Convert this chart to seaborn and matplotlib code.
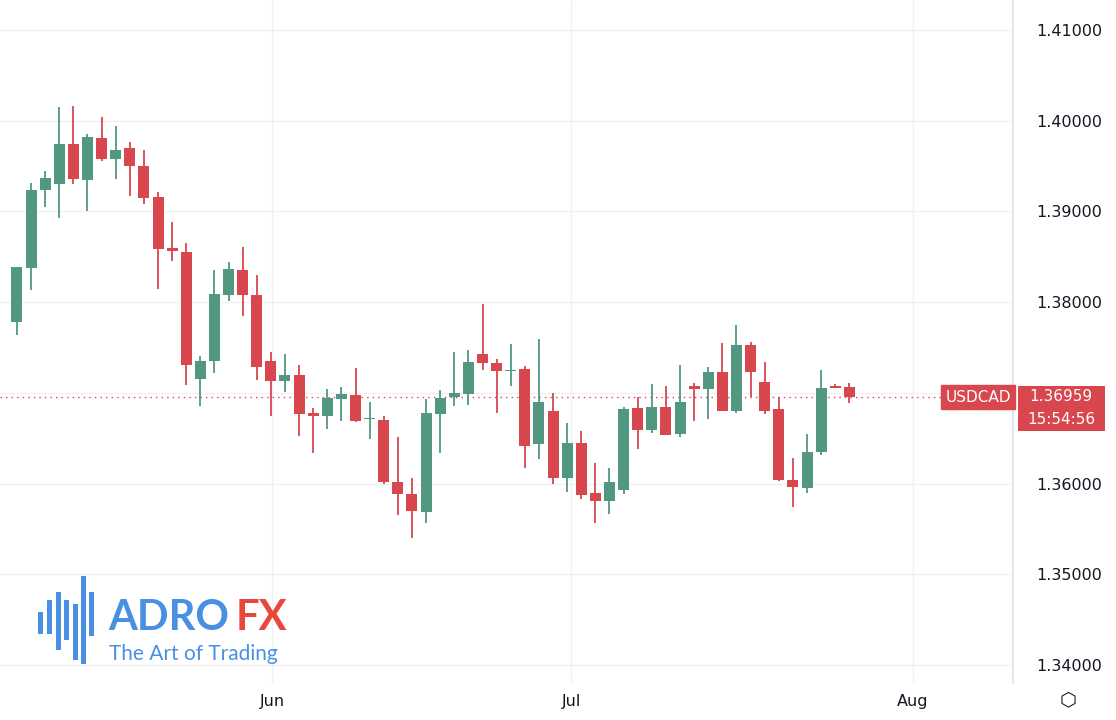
import numpy as np
import pandas as pd
import seaborn as sns
import matplotlib
matplotlib.use("Agg")
import matplotlib.pyplot as plt
from matplotlib.patches import Rectangle

opens = [1.37781,1.38376,1.39236,1.39302,1.39743,1.39346,1.39809,1.39578,1.39699,1.39501,
         1.39159,1.38597,1.38553,1.37153,1.37351,1.38079,1.38354,1.38079,1.37351,1.37131,
         1.37197,1.36778,1.36745,1.36932,1.36976,1.36712,1.36701,1.36017,1.35885,1.35686,
         1.36767,1.36954,1.36987,1.37428,1.37329,1.37241,1.37263,1.36436,1.36800,1.36061,
         1.36447,1.35896,1.35808,1.35929,1.36833,1.36590,1.36844,1.36546,1.37075,1.37042,
         1.37230,1.36800,1.37527,1.37120,1.36822,1.36039,1.35951,1.36348,1.37075,1.37064]
highs = [1.38387,1.39313,1.39446,1.40151,1.40162,1.39854,1.40041,1.39942,1.39765,1.39677,
         1.39214,1.38883,1.38652,1.37406,1.38354,1.38442,1.38608,1.38299,1.37450,1.37428,
         1.37307,1.36833,1.37042,1.37064,1.37274,1.36899,1.36745,1.36513,1.36061,1.36932,
         1.37031,1.37450,1.37472,1.37979,1.37373,1.37538,1.37296,1.37594,1.36998,1.36668,
         1.36579,1.36227,1.36172,1.36844,1.36954,1.37098,1.37075,1.37307,1.37109,1.37285,
         1.37549,1.37748,1.37561,1.37340,1.36954,1.36282,1.36546,1.37252,1.37098,1.37109]
lows = [1.37638,1.38134,1.39049,1.38928,1.39302,1.39005,1.39556,1.39357,1.39170,1.39082,
        1.38145,1.38453,1.37087,1.36855,1.37219,1.38012,1.37847,1.37142,1.36745,1.37009,
        1.36524,1.36337,1.36601,1.36690,1.36679,1.36491,1.35995,1.35653,1.35400,1.35565,
        1.36337,1.36855,1.36866,1.37252,1.36778,1.37075,1.36172,1.36271,1.35995,1.35907,
        1.35830,1.35565,1.35664,1.35885,1.36381,1.36557,1.36535,1.36513,1.36690,1.36712,
        1.36800,1.36778,1.36954,1.36767,1.36028,1.35742,1.35896,1.36315,1.37053,1.36888]
closes = [1.38387,1.39236,1.39368,1.39743,1.39357,1.39820,1.39578,1.39677,1.39501,1.39148,
          1.38586,1.38564,1.37307,1.37351,1.38090,1.38365,1.38079,1.37285,1.37131,1.37197,
          1.36767,1.36745,1.36943,1.36987,1.36690,1.36723,1.36017,1.35885,1.35698,1.36778,
          1.36943,1.36998,1.37340,1.37329,1.37241,1.37252,1.36414,1.36899,1.36061,1.36447,
          1.35874,1.35808,1.36017,1.36822,1.36590,1.36844,1.36535,1.36899,1.37042,1.37230,
          1.36800,1.37527,1.37230,1.36800,1.36039,1.35962,1.36348,1.37053,1.37053,1.36959]
yticks = [1.34, 1.35, 1.36, 1.37, 1.38, 1.39, 1.40, 1.41]
ytick_labels = ["1.34000", "1.35000", "1.36000", "", "1.38000", "1.39000", "1.40000", "1.41000"]
month_labels = ["Jun", "Jul", "Aug"]
month_pos = [18.1, 39.3, 63.5]
symbol = "USDCAD"
last_price = 1.36959
countdown = "15:54:56"

GREEN = "#52977f"
RED = "#d8464e"
df = pd.DataFrame({"o": opens, "h": highs, "l": lows, "c": closes})
df["i"] = np.arange(len(df))
df["up"] = df.c >= df.o
df["col"] = np.where(df.up, GREEN, RED)

sns.set_theme(style="white")
fig = plt.figure(figsize=(11.16, 7.2), dpi=100)
ax = fig.add_axes([0, 1 - 683/720, 1013/1116, 683/720])

for y in yticks:
    ax.axhline(y, color="#f0f1f4", lw=1, zorder=0)
for x in month_pos:
    ax.axvline(x, color="#f0f1f4", lw=1, zorder=0)

ax.vlines(df.i, df.l, df.h, colors=df.col, lw=1.3, zorder=2)
body = (df.c - df.o).abs().clip(lower=0.00004)
ax.bar(df.i, body, bottom=np.minimum(df.o, df.c), width=0.78, color=df.col, zorder=3, linewidth=0)
ax.axhline(last_price, color=RED, lw=1, ls=(0, (1, 3)), zorder=1)

ax.set_xlim(-1.2, 70.6)
ax.set_ylim(1.33801, 1.41331)
ax.yaxis.tick_right()
ax.set_yticks(yticks)
ax.set_yticklabels(ytick_labels, fontsize=11.5, color="#131722")
ax.set_xticks(month_pos)
ax.set_xticklabels(month_labels, fontsize=11.5, color="#131722")
ax.tick_params(axis="y", length=0, pad=17)
ax.tick_params(axis="x", length=0, pad=8)
for s in ["top", "left", "bottom"]:
    ax.spines[s].set_visible(False)
ax.spines["right"].set_color("#e0e3eb")

# price labels
fig.text(978/1116, 1 - 397/720, symbol, color="white", fontsize=11, ha="center", va="center",
         bbox=dict(boxstyle="square,pad=0.3", fc=RED, ec=RED))
fig.patches.append(Rectangle((1018/1116, 1 - 431/720), 87/1116, 45/720, transform=fig.transFigure,
                             fc=RED, ec="none"))
fig.text(1061/1116, 1 - 396/720, f"{last_price:.5f}", color="white", fontsize=11, ha="center", va="center")
fig.text(1061/1116, 1 - 420/720, countdown, color="white", fontsize=11, ha="center", va="center")

# logo
bars = [(38, 612, 634), (47, 600, 634), (56, 592, 650), (64, 600, 640), (73, 604, 660), (81, 576, 664), (89, 592, 636)]
for x, y0, y1 in bars:
    fig.patches.append(Rectangle((x/1116, 1 - y1/720), 5/1116, (y1 - y0)/720,
                                 transform=fig.transFigure, fc="#4a90e2", ec="none"))
fig.text(108/1116, 1 - 618/720, "ADRO", color="#4a90e2", fontsize=30, fontweight="bold", va="center", family="Lato")
fig.text(236/1116, 1 - 618/720, "FX", color="#e8473c", fontsize=30, fontweight="bold", va="center", family="Lato")
fig.text(109/1116, 1 - 654/720, "The Art of Trading", color="#4a90e2", fontsize=15, va="center", family="Lato")
fig.text(1068/1116, 1 - 700/720, "⬡", color="#131722", fontsize=14, ha="center", va="center")

fig.savefig("out.png", dpi=100)
